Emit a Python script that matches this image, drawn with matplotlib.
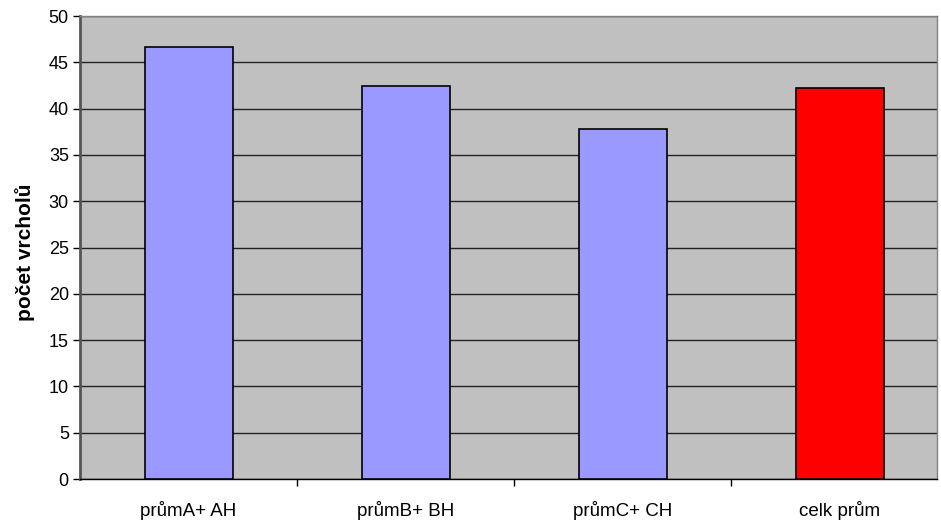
import matplotlib
matplotlib.use("Agg")
import matplotlib.pyplot as plt
import numpy as np

categories = ["průmA+ AH", "průmB+ BH", "průmC+ CH", "celk prům"]
values = [46.6, 42.45, 37.75, 42.2]
colors = ["#9999FF", "#9999FF", "#9999FF", "#FF0000"]
yticks = list(range(0, 51, 5))

plt.rcParams["font.family"] = ["Liberation Sans", "DejaVu Sans"]

fig = plt.figure(figsize=(9.41, 5.23), dpi=100)
ax = fig.add_axes([0.085, 0.0841, 0.9107, 0.8853])
ax.set_facecolor("#C0C0C0")

x = np.arange(len(categories))
ax.bar(x, values, width=0.405, color=colors, edgecolor="black", linewidth=1.2, zorder=3)

# the last category is cut slightly by the right edge of the plot area
ax.set_xlim(-0.5, len(categories) - 0.553)
ax.set_ylim(0, 50)
ax.set_yticks(yticks)
ax.yaxis.grid(True, color="#222222", linewidth=1.0, zorder=1)
ax.set_axisbelow(True)
ax.tick_params(axis="y", labelsize=13, length=5, width=1, pad=3)

# category labels centred, ticks on the boundaries between categories
ax.set_xticks(x)
ax.set_xticklabels(categories, fontsize=13.5)
ax.tick_params(axis="x", which="major", length=0, pad=16)
ax.set_xticks(np.arange(0.5, len(categories) - 0.5, 1), minor=True)
ax.tick_params(axis="x", which="minor", length=5, width=1)

ax.spines["left"].set_color("#555555")
ax.spines["left"].set_linewidth(2.0)
ax.spines["bottom"].set_color("black")
ax.spines["bottom"].set_linewidth(1.0)
for s in ["top", "right"]:
    ax.spines[s].set_color("#808080")
    ax.spines[s].set_linewidth(1.0)

ax.set_ylabel("počet vrcholů", fontsize=15, fontweight="bold")
ax.yaxis.set_label_coords(-0.053, 0.49)

fig.savefig("out.png", dpi=100)
